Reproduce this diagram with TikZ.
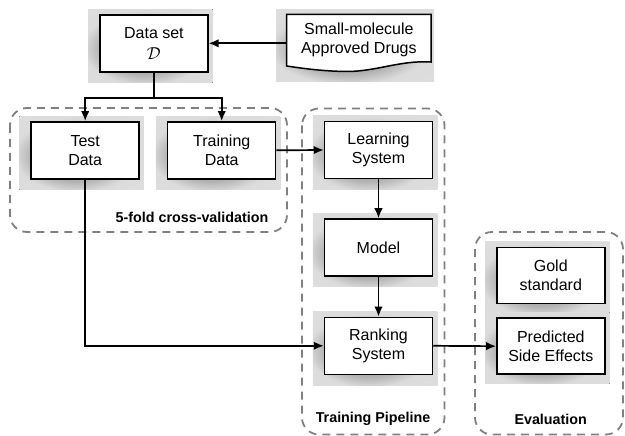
\documentclass[tikz,border=0pt]{standalone}
\usepackage{fontspec}
\setmainfont{Liberation Sans}
\usetikzlibrary{arrows.meta,calc}
\pgfdeclarelayer{bg}
\pgfsetlayers{bg,main}
% soft grey halo placed behind every box
\pgfdeclareradialshading{halo}{\pgfpoint{-4bp}{-3bp}}{%
  color(0bp)=(black!36); color(17bp)=(black!31); color(25bp)=(black!14); color(50bp)=(black!12)}
\tikzset{
  box/.style={draw, line width=1.5pt, fill=white, minimum width=108pt,
    minimum height=57pt, align=center, inner sep=0pt,
    font=\fontsize{16}{19.3}\selectfont},
  doctext/.style={minimum width=144pt, minimum height=51pt, align=center,
    inner sep=0pt, font=\fontsize{16}{19.3}\selectfont},
  group/.style={draw=black!50, dash pattern=on 8pt off 6pt, line width=1.8pt,
    rounded corners=17pt},
  grouplabel/.style={font=\bfseries\fontsize{14.3}{17}\selectfont},
  conn/.style={line width=1.7pt, -{Latex[length=10pt,width=8.5pt]}},
  plainconn/.style={line width=1.7pt},
  halofill/.style={shading=halo}
}
\newcommand{\halobox}[1]{%
  \fill[halofill] ([xshift=-11pt,yshift=-10pt]#1.south west)
    rectangle ([xshift=4pt,yshift=5pt]#1.north east);}
\begin{document}
\begin{tikzpicture}[x=1pt,y=-1pt]
\useasboundingbox (0,0) rectangle (625,436);

% dashed grouping frames
\draw[group] (10,108) rectangle (287,232);
\draw[group] (302,108.5) rectangle (444.5,434.5);
\draw[group] (475,232) rectangle (623,434.5);
\node[grouplabel] (cvlabel) at (192,217) {5-fold cross-validation};
\node[grouplabel] (tplabel) at (373,419) {Training Pipeline};
\node[grouplabel] (evlabel) at (550.7,419) {Evaluation};

% source document with wavy bottom edge
\fill[halofill] (276,10) rectangle (434,82);
\draw[line width=1.5pt, fill=white] (286.7,14.3) -- (431,14.3) -- (431,62)
  .. controls (400,60) and (375,72) .. (345,71.5)
  .. controls (320,71) and (300,68) .. (286.7,66) -- cycle;
\node[doctext] (drugs) at (358.85,40) {Small-molecule\\Approved Drugs};

% boxes
\node[box] (data)  at (153.9,43.3) {Data set\\[2pt]{\fontsize{19}{19}\selectfont$\mathcal{D}$}};
\node[box] (test)  at (85.2,150.3) {Test\\Data};
\node[box] (train) at (221.7,150.3) {Training\\Data};
\node[box] (learn) at (378.5,150) {Learning\\System};
\node[box] (model) at (378.5,247.5) {Model};
\node[box] (rank)  at (378.5,345.8) {Ranking\\System};
\node[box, minimum height=56pt] (gold) at (550.8,275.5) {Gold\\standard};
\node[box, minimum height=56pt] (pred) at (550.8,346.2) {Predicted\\Side Effects};

\begin{pgfonlayer}{bg}
  \halobox{data}
  \halobox{test}
  \halobox{train}
  \halobox{learn}
  \halobox{model}
  \halobox{rank}
  \fill[halofill] ([xshift=-11pt,yshift=-10pt]gold.south west) rectangle ([xshift=4pt,yshift=5pt]gold.north east);
  \fill[halofill] ([xshift=-11pt,yshift=-9pt]pred.south west) rectangle ([xshift=4pt,yshift=5pt]pred.north east);
\end{pgfonlayer}

% connectors
\coordinate (split) at ($(data.south)+(0,25.5)$);
\draw[conn] (drugs.west |- data.east) -- (data.east);
\draw[plainconn] (data.south) -- (split);
\draw[conn] (split) -| (test.north);
\draw[conn] (split) -| (train.north);
\draw[conn] (train.east) -- (learn.west);
\draw[conn] (learn.south) -- (model.north);
\draw[conn] (model.south) -- (rank.north);
\draw[conn] (test.south) |- (rank.west);
\draw[conn] (rank.east) -- (pred.west);
\end{tikzpicture}
\end{document}
